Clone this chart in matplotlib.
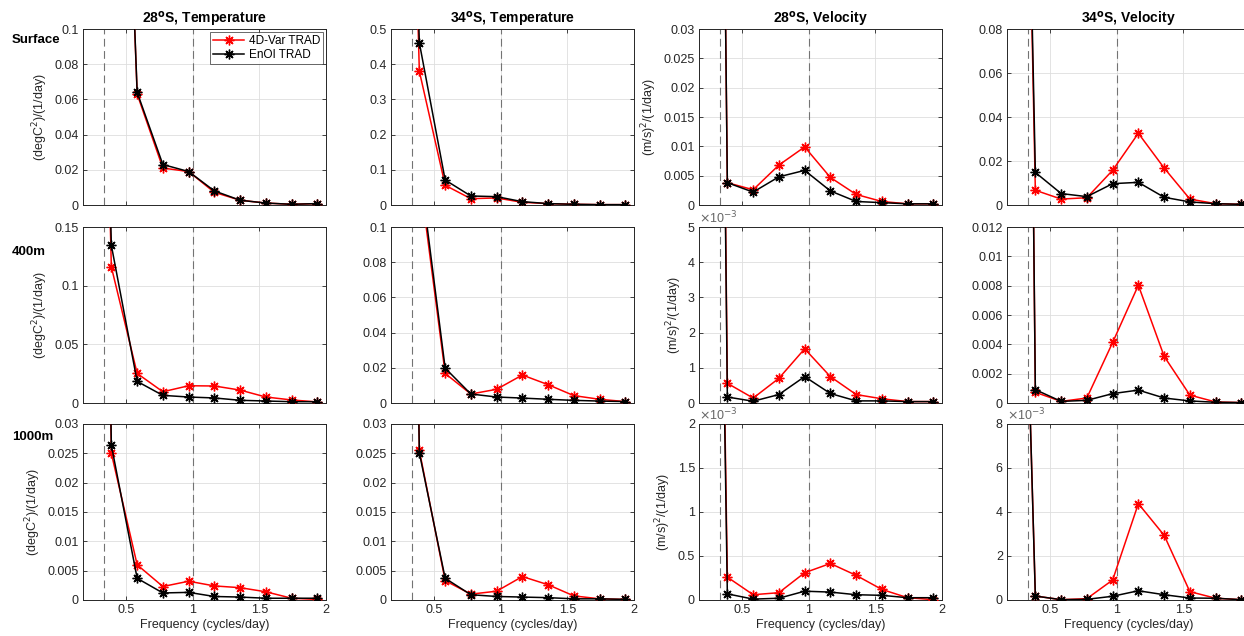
import matplotlib
matplotlib.use("Agg")
import matplotlib.pyplot as plt
from matplotlib.ticker import FuncFormatter

plt.rcParams['font.family'] = ['Liberation Sans', 'DejaVu Sans']

# Frequency grid (cycles/day)
freq = [0.194, 0.387, 0.581, 0.774, 0.968, 1.161, 1.355, 1.548, 1.742, 1.935]

# Surface
t28_sfc_4dvar = [3.0, 0.45, 0.063, 0.021, 0.019, 0.0072, 0.0027, 0.0011, 0.0004, 0.0008]
t28_sfc_enoi = [3.0, 0.45, 0.064, 0.023, 0.019, 0.0080, 0.0027, 0.0011, 0.0004, 0.0008]
t34_sfc_4dvar = [3.0, 0.380, 0.056, 0.018, 0.020, 0.0076, 0.004, 0.002, 0.001, 0.001]
t34_sfc_enoi = [3.0, 0.461, 0.071, 0.0256, 0.0237, 0.0095, 0.004, 0.002, 0.001, 0.001]
u28_sfc_4dvar = [0.4, 0.0038, 0.0026, 0.0068, 0.0099, 0.0047, 0.0018, 0.0006, 0.0002, 0.0002]
u28_sfc_enoi = [0.4, 0.0038, 0.0022, 0.0048, 0.0059, 0.0024, 0.0006, 0.0004, 0.0002, 0.0002]
u34_sfc_4dvar = [0.57, 0.0067, 0.0027, 0.0033, 0.0158, 0.0326, 0.0168, 0.0027, 0.0006, 0.0003]
u34_sfc_enoi = [0.57, 0.0148, 0.0052, 0.0038, 0.0097, 0.0103, 0.0035, 0.0014, 0.0006, 0.0003]

# 400m
t28_400_4dvar = [1.0, 0.116, 0.0252, 0.0096, 0.0147, 0.0145, 0.011, 0.0051, 0.0026, 0.0009]
t28_400_enoi = [1.0, 0.1344, 0.0184, 0.0065, 0.0051, 0.0043, 0.0023, 0.0017, 0.0011, 0.0011]
t34_400_4dvar = [1.0, 0.130, 0.0168, 0.0051, 0.0078, 0.0159, 0.0104, 0.0042, 0.0021, 0.0008]
t34_400_enoi = [1.0, 0.135, 0.0198, 0.0051, 0.0034, 0.0028, 0.0021, 0.0015, 0.0011, 0.0008]
u28_400_4dvar = [0.068, 0.00056, 0.00014, 0.00070, 0.00154, 0.00075, 0.00024, 0.00012, 0.00004, 0.00004]
u28_400_enoi = [0.068, 0.00017, 0.00005, 0.00024, 0.00075, 0.00027, 0.00006, 0.00006, 0.00004, 0.00004]
u34_400_4dvar = [0.17, 0.00073, 0.00011, 0.00034, 0.00413, 0.00803, 0.00318, 0.00054, 0.00007, 0.00003]
u34_400_enoi = [0.17, 0.00091, 0.00011, 0.00018, 0.00064, 0.00088, 0.00034, 0.00014, 0.00005, 0.00003]

# 1000m
t28_1000_4dvar = [0.3, 0.0250, 0.0060, 0.0023, 0.0032, 0.0024, 0.0021, 0.0014, 0.0003, 0.0001]
t28_1000_enoi = [0.3, 0.0264, 0.0037, 0.0012, 0.0013, 0.0006, 0.0005, 0.0003, 0.0003, 0.0003]
t34_1000_4dvar = [0.3, 0.0255, 0.0033, 0.0010, 0.0015, 0.0040, 0.0026, 0.0007, 0.0002, 0.0001]
t34_1000_enoi = [0.3, 0.0251, 0.0037, 0.0009, 0.0006, 0.0005, 0.0004, 0.0002, 0.0002, 0.0001]
u28_1000_4dvar = [0.019, 0.00026, 0.00006, 0.000083, 0.00031, 0.000415, 0.00028, 0.00012, 0.000026, 0.000004]
u28_1000_enoi = [0.019, 0.00007, 0.00001, 0.00002, 0.00010, 0.00009, 0.00006, 0.000053, 0.000026, 0.000026]
u34_1000_4dvar = [0.041, 0.00018, 0.000015, 0.00006, 0.00091, 0.00438, 0.00294, 0.00038, 0.00008, 0.000015]
u34_1000_enoi = [0.041, 0.00018, 0.000015, 0.00003, 0.00017, 0.00042, 0.00024, 0.00009, 0.00008, 0.000015]

col_titles = ['28$^{\\mathbf{o}}$S, Temperature', '34$^{\\mathbf{o}}$S, Temperature',
              '28$^{\\mathbf{o}}$S, Velocity', '34$^{\\mathbf{o}}$S, Velocity']
row_labels = ['Surface', '400m', '1000m']
ylab_temp = '(degC$^2$)/(1/day)'
ylab_vel = '(m/s)$^2$/(1/day)'

# (4D-Var, EnOI, ymax, ystep, scale) per panel
panels = [
    [(t28_sfc_4dvar, t28_sfc_enoi, 0.1, 0.02, 1), (t34_sfc_4dvar, t34_sfc_enoi, 0.5, 0.1, 1),
     (u28_sfc_4dvar, u28_sfc_enoi, 0.03, 0.005, 1), (u34_sfc_4dvar, u34_sfc_enoi, 0.08, 0.02, 1)],
    [(t28_400_4dvar, t28_400_enoi, 0.15, 0.05, 1), (t34_400_4dvar, t34_400_enoi, 0.1, 0.02, 1),
     (u28_400_4dvar, u28_400_enoi, 0.005, 0.001, 1e3), (u34_400_4dvar, u34_400_enoi, 0.012, 0.002, 1)],
    [(t28_1000_4dvar, t28_1000_enoi, 0.03, 0.005, 1), (t34_1000_4dvar, t34_1000_enoi, 0.03, 0.005, 1),
     (u28_1000_4dvar, u28_1000_enoi, 0.002, 0.0005, 1e3), (u34_1000_4dvar, u34_1000_enoi, 0.008, 0.002, 1e3)],
]

W, H = 1244, 636
fig = plt.figure(figsize=(W / 100, H / 100), dpi=100)

lefts = [83, 391, 699, 1007]
tops = [29, 227, 424]
aw, ah = 243, 176
dark = '#262626'
star = (8, 2, 0)  # MATLAB-like asterisk

for r in range(3):
    for c in range(4):
        red, blk, ymax, ystep, scale = panels[r][c]
        ax = fig.add_axes([lefts[c] / W, 1 - (tops[r] + ah) / H, aw / W, ah / H])
        ax.axvline(1 / 3, color='0.45', lw=0.8, ls=(0, (7, 4)), zorder=1)
        ax.axvline(1.0, color='0.45', lw=0.8, ls=(0, (7, 4)), zorder=1)
        ax.plot(freq, red, color='red', marker=star, ms=7, mew=1.0, lw=1.1,
                label='4D-Var TRAD', zorder=3)
        ax.plot(freq, blk, color='black', marker=star, ms=7, mew=1.0, lw=1.1,
                label='EnOI TRAD', zorder=4)
        ax.set_xlim(0.174, 2)
        ax.set_ylim(0, ymax)
        ax.set_xticks([0.5, 1, 1.5, 2])
        nt = int(round(ymax / ystep))
        ax.set_yticks([i * ystep for i in range(nt + 1)])
        ax.yaxis.set_major_formatter(FuncFormatter(lambda v, p, s=scale: '%g' % round(v * s, 6)))
        if c == 3:
            ax.xaxis.set_major_formatter(FuncFormatter(lambda v, p: '' if v > 1.9 else '%g' % v))
        else:
            ax.xaxis.set_major_formatter(FuncFormatter(lambda v, p: '%g' % v))
        ax.grid(True, color='#dedede', lw=0.6, zorder=0)
        ax.set_axisbelow(True)
        ax.tick_params(direction='in', length=3, width=0.6, colors=dark, labelsize=9,
                       top=True, right=True, pad=3)
        for sp in ax.spines.values():
            sp.set_color(dark)
            sp.set_linewidth(0.7)
        if scale != 1:
            ax.text(0.0, 1.005, '$\\times$10$^{-3}$', transform=ax.transAxes, fontsize=9,
                    color='#666666', ha='left', va='bottom')
        if r < 2:
            ax.tick_params(labelbottom=False)
        else:
            ax.set_xlabel('Frequency (cycles/day)', fontsize=9, color=dark, labelpad=2)
        if c == 0:
            ax.set_ylabel(ylab_temp, fontsize=9, color=dark, labelpad=3)
        elif c == 2:
            ax.set_ylabel(ylab_vel, fontsize=9, color=dark, labelpad=3)
        if r == 0:
            ax.set_title(col_titles[c], fontsize=10, fontweight='bold', pad=4)
        if r == 0 and c == 0:
            leg = ax.legend(loc='upper right', fontsize=8.5, frameon=True, fancybox=False,
                            borderpad=0.25, handlelength=2.6, labelspacing=0.15,
                            handletextpad=0.4, borderaxespad=0.25)
            leg.get_frame().set_edgecolor(dark)
            leg.get_frame().set_linewidth(0.6)

row_y = [40, 252, 437]
for lab, y in zip(row_labels, row_y):
    fig.text(12 / W, 1 - y / H, lab, fontsize=9.5, fontweight='bold', ha='left', va='center')

fig.savefig('out.png', dpi=100)
